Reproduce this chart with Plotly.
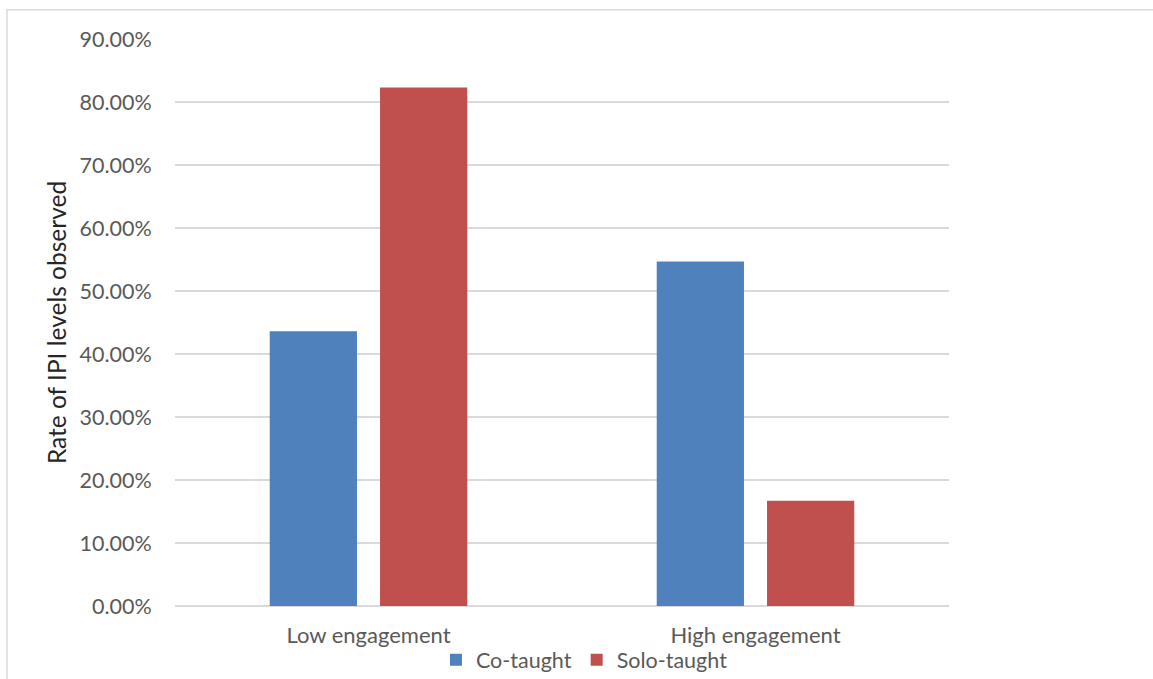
import plotly.graph_objects as go

# Observed IPI rates by engagement level and teaching arrangement
categories = ["Low engagement", "High engagement"]
co_taught = [0.436, 0.547]
solo_taught = [0.823, 0.167]
y_ticks = [0.0, 0.1, 0.2, 0.3, 0.4, 0.5, 0.6, 0.7, 0.8, 0.9]

FONT = "Lato, 'Noto Sans', sans-serif"
TICK_GREY = "#595959"
GRID = "#d9d9d9"

fig = go.Figure()
fig.add_trace(go.Bar(x=categories, y=co_taught, name="Co-taught",
                     marker=dict(color="#4F81BD", line=dict(width=0))))
fig.add_trace(go.Bar(x=categories, y=solo_taught, name="Solo-taught",
                     marker=dict(color="#C0504D", line=dict(width=0))))

fig.update_layout(
    width=1153, height=679,
    margin=dict(l=175, r=204, t=39, b=73, autoexpand=False),
    paper_bgcolor="white", plot_bgcolor="white",
    barmode="group", bargap=0.43, bargroupgap=0.209,
    font=dict(family=FONT, size=21, color=TICK_GREY),
    showlegend=True,
    legend=dict(orientation="h", x=0.529, xanchor="center", y=-0.095, yanchor="middle",
                font=dict(family=FONT, size=21.5, color=TICK_GREY),
                itemwidth=30, tracegroupgap=0, bgcolor="rgba(0,0,0,0)"),
    xaxis=dict(showgrid=False, showline=False, zeroline=False, automargin=False,
               ticks="outside", ticklen=10, tickcolor="rgba(0,0,0,0)",
               tickfont=dict(family=FONT, size=22, color=TICK_GREY)),
    yaxis=dict(range=[0, 0.9], tickvals=y_ticks, tickformat=".2%", automargin=False,
               showgrid=True, gridcolor=GRID, gridwidth=1.5,
               zeroline=True, zerolinecolor=GRID, zerolinewidth=1.5,
               showline=False, ticks="outside", ticklen=18,
               tickcolor="rgba(0,0,0,0)",
               tickfont=dict(family=FONT, size=21.5, color=TICK_GREY),
               title=dict(text="Rate of IPI levels observed", standoff=5,
                          font=dict(family=FONT, size=24.5, color="#262626"))),
    shapes=[dict(type="rect", xref="paper", yref="paper",
                 x0=-0.217, x1=1.3, y0=-0.3, y1=1.0517,
                 line=dict(color=GRID, width=1.5), fillcolor="rgba(0,0,0,0)",
                 layer="below")],
)

fig.write_html("out.html")
